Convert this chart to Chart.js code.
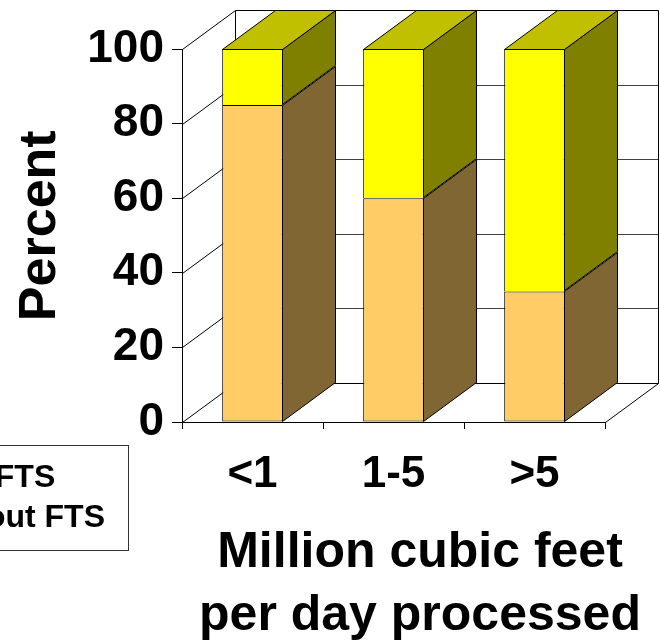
<!DOCTYPE html>
<html>
<head>
<meta charset="utf-8">
<script src="https://cdn.jsdelivr.net/npm/chart.js@4.4.1/dist/chart.umd.min.js"></script>
<style>
html,body{margin:0;padding:0;background:#fff;overflow:hidden}
canvas{display:block}
</style>
</head>
<body>
<canvas id="c" width="660" height="644"></canvas>
<script>
// ---- data ----
const categories = ['<1', '1-5', '>5'];
const withoutFTS = [85, 60, 35];
const withFTS = [15, 40, 65];
const seriesLabels = ['Without FTS', 'With FTS'];
const yTicks = [0, 20, 40, 60, 80, 100];
const yAxisTitle = 'Percent';
const xAxisTitle = ['Million cubic feet', 'per day processed'];

// ---- style ----
const FONT = "'Liberation Sans', Arial, Helvetica, sans-serif";
const DX = 53, DY = 39;               // 3-D depth offset
const frontColors = ['#FFCC66', '#FFFF00'];
const sideColors = ['#806633', '#808000'];
const topColor = '#C0C000';
const gridColor = '#404040';

const wallPlugin = {
  id: 'wall3d',
  beforeDatasetsDraw(chart) {
    const {ctx, chartArea: a, scales: {y}} = chart;
    ctx.save();
    ctx.lineWidth = 1;
    const L = a.left + 0.5, R = a.right + 0.5;
    yTicks.forEach(v => {
      const py = Math.round(y.getPixelForValue(v)) + 0.5;
      ctx.strokeStyle = (v === 0 || v === 100) ? '#000' : gridColor;
      ctx.beginPath(); ctx.moveTo(L + DX, py - DY); ctx.lineTo(R + DX, py - DY); ctx.stroke();
      ctx.strokeStyle = '#000';
      ctx.beginPath(); ctx.moveTo(L, py); ctx.lineTo(L + DX, py - DY); ctx.stroke();
    });
    const top = Math.round(y.getPixelForValue(100)) + 0.5 - DY;
    const bot = Math.round(y.getPixelForValue(0)) + 0.5 - DY;
    ctx.strokeStyle = '#000';
    ctx.beginPath(); ctx.moveTo(L + DX, top); ctx.lineTo(L + DX, bot); ctx.stroke();
    ctx.beginPath(); ctx.moveTo(R + DX, top); ctx.lineTo(R + DX, bot); ctx.stroke();
    ctx.beginPath(); ctx.moveTo(R, bot + DY); ctx.lineTo(R + DX, bot); ctx.stroke();
    ctx.restore();
  },
  afterDatasetsDraw(chart) {
    const {ctx} = chart;
    const n = chart.data.datasets.length;
    ctx.save();
    ctx.lineWidth = 1;
    ctx.strokeStyle = '#000';
    chart.data.datasets.forEach((ds, di) => {
      const meta = chart.getDatasetMeta(di);
      meta.data.forEach(el => {
        const p = el.getProps(['x', 'y', 'base', 'width'], true);
        const l = Math.round(p.x - p.width / 2) + 0.5;
        const r = Math.round(p.x + p.width / 2) - 0.5;
        const t = Math.round(Math.min(p.y, p.base)) + 0.5;
        const b = Math.round(Math.max(p.y, p.base)) - 0.5;
        ctx.fillStyle = sideColors[di];
        ctx.beginPath();
        ctx.moveTo(r, t); ctx.lineTo(r + DX, t - DY); ctx.lineTo(r + DX, b - DY); ctx.lineTo(r, b);
        ctx.closePath(); ctx.fill(); ctx.stroke();
        if (di === n - 1) {
          ctx.fillStyle = topColor;
          ctx.beginPath();
          ctx.moveTo(l, t); ctx.lineTo(l + DX, t - DY); ctx.lineTo(r + DX, t - DY); ctx.lineTo(r, t);
          ctx.closePath(); ctx.fill(); ctx.stroke();
        }
      });
    });
    ctx.restore();
  },
  afterDraw(chart) {
    const {ctx, chartArea: a} = chart;
    ctx.save();
    ctx.fillStyle = '#000';
    // axis titles, centred on the 3-D plot box
    ctx.font = 'bold 52px ' + FONT;
    ctx.textAlign = 'center';
    ctx.textBaseline = 'middle';
    ctx.save();
    ctx.translate(41, (a.top - DY / 2 + a.bottom) / 2);
    ctx.rotate(-Math.PI / 2);
    ctx.fillText(yAxisTitle, 0, 0);
    ctx.restore();
    ctx.font = 'bold 50px ' + FONT;
    ctx.textBaseline = 'alphabetic';
    const cx = (a.left + a.right + DX) / 2;
    xAxisTitle.forEach((line, i) => ctx.fillText(line, cx, 567 + i * 63));
    // legend (partly outside the picture on the left)
    ctx.font = 'bold 32px ' + FONT;
    ctx.textAlign = 'left';
    ctx.textBaseline = 'middle';
    const ds = chart.data.datasets.slice().reverse();
    const maxW = Math.max(...ds.map(d => ctx.measureText(d.label).width));
    const textRight = 105, boxRight = 128.5, boxTop = 445.5, boxBottom = 550.5;
    const x0 = textRight - maxW;
    const mid = (boxTop + boxBottom) / 2;
    ctx.fillStyle = '#fff';
    ctx.strokeStyle = '#333';
    ctx.lineWidth = 1;
    ctx.fillRect(x0 - 48, boxTop, boxRight - x0 + 48, boxBottom - boxTop);
    ctx.strokeRect(x0 - 48, boxTop, boxRight - x0 + 48, boxBottom - boxTop);
    ds.forEach((d, i) => {
      const yy = mid + (i - (ds.length - 1) / 2) * 40;
      ctx.fillStyle = d.backgroundColor;
      ctx.strokeStyle = '#000';
      ctx.fillRect(x0 - 36, yy - 10, 20, 20);
      ctx.strokeRect(x0 - 36 + 0.5, yy - 10 + 0.5, 20, 20);
      ctx.fillStyle = '#000';
      ctx.fillText(d.label, x0, yy);
    });
    ctx.restore();
  }
};

new Chart(document.getElementById('c'), {
  type: 'bar',
  data: {
    labels: categories,
    datasets: [
      { label: seriesLabels[0], data: withoutFTS, backgroundColor: frontColors[0], borderSkipped: false },
      { label: seriesLabels[1], data: withFTS, backgroundColor: frontColors[1], borderSkipped: 'start' }
    ]
  },
  options: {
    responsive: false,
    animation: false,
    devicePixelRatio: 1,
    layout: { padding: { top: 49, right: 55, left: 0, bottom: 0 } },
    datasets: {
      bar: {
        borderColor: '#000', borderWidth: 1,
        categoryPercentage: 1.0, barPercentage: 0.43
      }
    },
    plugins: { legend: { display: false }, tooltip: { enabled: false }, title: { display: false } },
    scales: {
      x: {
        stacked: true,
        afterFit: s => { s.height = 222; },
        grid: { display: true, drawOnChartArea: false, drawTicks: true, tickLength: 7, color: '#000', offset: true },
        border: { display: true, color: '#000', width: 1 },
        ticks: { color: '#000', font: { family: FONT, size: 44, weight: 'bold' }, padding: 19, maxRotation: 0 }
      },
      y: {
        stacked: true,
        min: 0, max: 100,
        afterFit: s => { s.width = 182; },
        afterBuildTicks: s => { s.ticks = yTicks.map(v => ({ value: v })); },
        grid: { display: true, drawOnChartArea: false, drawTicks: true, tickLength: 10, color: '#000' },
        border: { display: true, color: '#000', width: 1 },
        ticks: { color: '#000', font: { family: FONT, size: 46, weight: 'bold' }, padding: 8 }
      }
    }
  },
  plugins: [wallPlugin]
});
</script>
</body>
</html>
